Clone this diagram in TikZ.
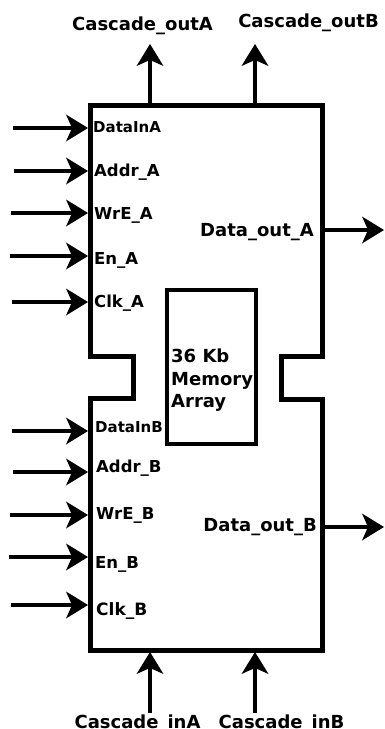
\documentclass[tikz,border=0pt]{standalone}
\usepackage{fontspec}
\setmainfont{DejaVu Sans}
\usetikzlibrary{arrows.meta}
\newcommand{\pinin}[3]{\coordinate (#1s) at (#2,#3); \coordinate (#1e) at (88,#3); \draw[sig] (#1s)--(#1e);}

\begin{document}
\begin{tikzpicture}[x=1pt,y=-1pt,
  sig/.style={line width=4.5pt,-{Stealth[length=22pt,width=27pt,inset=6pt,line width=0pt]}},
  pin/.style={anchor=base west,inner sep=0pt,font=\bfseries\fontsize{16.5}{19}\selectfont},
  lbl/.style={inner sep=0pt,font=\bfseries\fontsize{18}{22.5}\selectfont}]
\useasboundingbox (0,0) rectangle (384,729);
% block outline with the notch on each side
\draw[line width=5pt] (90,105)--(322,105)--(322,356)--(281,356)--(281,399)--(322,399)--(322,650)--(90,650)--(90,398)--(133,398)--(133,356)--(90,356)--cycle;
\node[draw,line width=4pt,minimum width=89pt,minimum height=154pt,inner sep=0pt] (mem) at (211,367) {};
\node[lbl,anchor=north west,align=left] (memtxt) at (171,349) {36 Kb\\Memory\\Array};
% port A inputs
\pinin{dinA}{13}{128} \pinin{adA}{14}{171} \pinin{weA}{11}{213} \pinin{enA}{10}{256} \pinin{ckA}{12}{302}
\node[pin,font=\bfseries\fontsize{15}{18}\selectfont] (ldinA) at (93,132) {DataInA};
\node[pin] (ladA) at (94,176) {Addr\_A}; \node[pin] (lweA) at (94,219) {WrE\_A};
\node[pin] (lenA) at (94,264) {En\_A}; \node[pin] (lckA) at (94,307) {Clk\_A};
% port B inputs
\pinin{dinB}{12}{431} \pinin{adB}{13}{472} \pinin{weB}{10}{515} \pinin{enB}{9}{557} \pinin{ckB}{11}{605}
\node[pin,font=\bfseries\fontsize{15}{18}\selectfont] (ldinB) at (95,432) {DataInB};
\node[pin] (ladB) at (96,472) {Addr\_B}; \node[pin] (lweB) at (96,519) {WrE\_B};
\node[pin] (lenB) at (95,568) {En\_B}; \node[pin,font=\bfseries\fontsize{17}{19}\selectfont] (lckB) at (96,615) {Clk\_B};
% data outputs
\coordinate (doAs) at (322,230); \coordinate (doAe) at (384,230); \draw[sig] (doAs)--(doAe);
\coordinate (doBs) at (322,527); \coordinate (doBe) at (384,527); \draw[sig] (doBs)--(doBe);
\node[lbl,anchor=base east] (ldoA) at (314,236) {Data\_out\_A};
\node[lbl,anchor=base east] (ldoB) at (317,531) {Data\_out\_B};
% cascade ports
\coordinate (coAs) at (150,105); \coordinate (coAe) at (150,44); \draw[sig] (coAs)--(coAe);
\coordinate (coBs) at (255,105); \coordinate (coBe) at (255,44); \draw[sig] (coBs)--(coBe);
\coordinate (ciAs) at (150,713); \coordinate (ciAe) at (150,652); \draw[sig] (ciAs)--(ciAe);
\coordinate (ciBs) at (255,713); \coordinate (ciBe) at (255,652); \draw[sig] (ciBs)--(ciBe);
\node[lbl,anchor=base] (lcoA) at (142.5,30) {Cascade\_outA};
\node[lbl,anchor=base] (lcoB) at (308.5,27) {Cascade\_outB};
\node[lbl,anchor=base] (lciA) at (137.5,728) {Cascade\_inA};
\node[lbl,anchor=base] (lciB) at (281.5,728) {Cascade\_inB};
\end{tikzpicture}
\end{document}
